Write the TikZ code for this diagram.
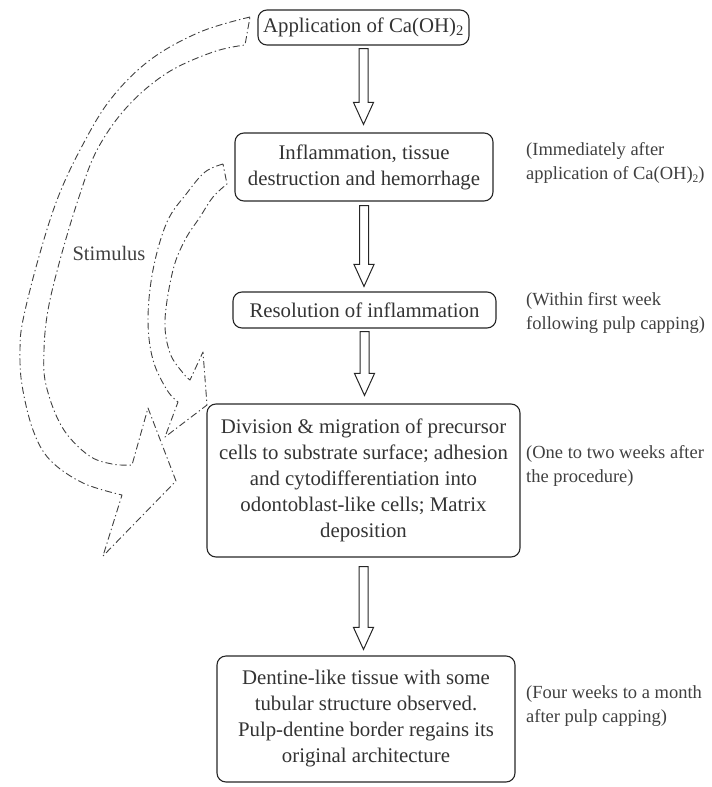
\documentclass[tikz,border=0pt]{standalone}
\usepackage{fontspec}
\setmainfont{Liberation Serif}
\usetikzlibrary{calc}
\tikzset{
  box/.style={draw=black!85, line width=1.1pt, rounded corners=9pt, inner sep=0pt,
    align=center, font=\fontsize{20.8}{26}\selectfont, text=black!80},
  note/.style={anchor=west, align=left, inner sep=0pt,
    font=\fontsize{18.5}{24.5}\selectfont, text=black!75},
  hollow/.style={draw=black!85, line width=1pt, line join=miter},
  dashdot/.style={draw=black!75, line width=0.9pt, line join=round,
    dash pattern=on 7pt off 3pt on 1.3pt off 3pt},
}
\newcommand\harrow[4]{\draw[hollow] let \p1=(#1.south), \p2=(#2.north) in
  (\x1-4.5pt,\y1-#3pt) -- (\x1-4.5pt,\y2+#4pt+22pt) -- (\x1-10pt,\y2+#4pt+22pt)
  -- (\x1,\y2+#4pt) -- (\x1+10pt,\y2+#4pt+22pt) -- (\x1+4.5pt,\y2+#4pt+22pt)
  -- (\x1+4.5pt,\y1-#3pt) -- cycle;}
\newcommand\lowtwo{{\fontsize{11.5}{12}\selectfont\raisebox{-3pt}{2}}}
\begin{document}
\begin{tikzpicture}[x=1pt,y=-1pt]
\useasboundingbox (0,0) rectangle (712,787);
% boxes
\node[box, minimum width=211pt, minimum height=35pt] (b1) at (363.5,27.5)
  {Application of Ca(OH)\textsubscript{2}};
\node[box, minimum width=258pt, minimum height=68pt] (b2) at (364,167)
  {Inflammation, tissue\\destruction and hemorrhage};
\node[box, minimum width=263pt, minimum height=36pt] (b3) at (364.5,310)
  {Resolution of inflammation};
\node[box, minimum width=313pt, minimum height=153pt] (b4) at (363.5,480.5)
  {Division \& migration of precursor\\cells to substrate surface; adhesion\\and cytodifferentiation into\\odontoblast-like cells; Matrix\\deposition};
\node[box, minimum width=298pt, minimum height=126pt] (b5) at (366,719)
  {Dentine-like tissue with some\\tubular structure observed.\\Pulp-dentine border regains its\\original architecture};
% hollow arrows
\harrow{b1}{b2}{3}{8}
\harrow{b2}{b3}{4}{5}
\harrow{b3}{b4}{3}{8}
\harrow{b4}{b5}{9}{6}
% notes
\node[note] (n2) at (526,163) {(Immediately after\\application of Ca(OH)\lowtwo)};
\node[note] (n3) at (526,313) {(Within first week\\following pulp capping)};
\node[note] (n4) at (526,466) {(One to two weeks after\\the procedure)};
\node[note] (n5) at (526,706) {(Four weeks to a month\\after pulp capping)};
% stimulus label
\node[font=\fontsize{20.5}{24}\selectfont, text=black!75, inner sep=0pt] (stim) at (109,253) {Stimulus};
% big outer curved arrow (from Application box)
\draw[dashdot]
  plot[smooth, tension=0.6] coordinates {(250,17) (200,32) (150,60) (110,100) (80,150) (57,200) (38,260) (23,320) (20,350) (22,385) (33,430) (50,460) (83,483) (122,495)}
  -- (103,556) -- (176,481) -- (148,408)
  -- plot[smooth, tension=0.6] coordinates {(132,465) (112,464) (88,455) (62,427) (46,385) (44,350) (48,310) (60,260) (78,200) (97,150) (127,107) (167,73) (213,52) (245,45)}
  -- cycle;
% inner curved arrow (from Inflammation box)
\draw[dashdot]
  plot[smooth, tension=0.6] coordinates {(223,164) (205,172) (187,193) (167,222) (153,270) (148,320) (153,360) (167,390) (178,402)}
  -- (165,437) -- (207,405) -- (203,352)
  -- plot[smooth, tension=0.6] coordinates {(190,380) (183,373) (170,353) (165,320) (173,270) (185,240) (200,217) (213,197) (227,184)}
  -- cycle;
\end{tikzpicture}
\end{document}
